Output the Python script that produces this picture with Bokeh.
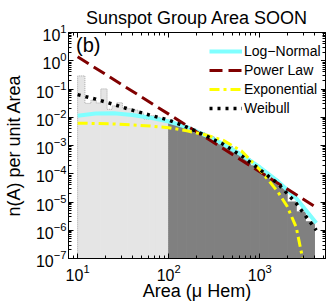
import numpy as np
from bokeh.plotting import figure
from bokeh.models import (LogAxis, FixedTicker, Label, Legend, LegendItem,
                          CustomJSTickFormatter)
from bokeh.embed import file_html
from bokeh.resources import INLINE

TITLE = "Sunspot Group Area SOON"
X_LABEL = "Area (\u03bc Hem)"
Y_LABEL = "n(A) per unit Area"
PANEL = "(b)"

# Histogram, A < 100 (light grey): bin edges and log10 n(A)
light_edges = [10, 12, 14, 16, 18, 21, 24, 27, 31, 35, 40, 46, 53, 61, 70, 80, 90, 100]
light_logn = [-0.54, -1.51, -1.40, -1.50, -1.00, -1.72, -1.60, -1.49, -1.65,
              -1.70, -1.75, -1.85, -2.07, -1.95, -2.00, -2.05, -2.12]
# Histogram, A >= 100 (dark grey)
dark_edges = [100, 126, 158, 200, 251, 316, 398, 501, 631, 794, 1000, 1259,
              1585, 1995, 2512, 3162, 3981]
dark_logn = [-2.20, -2.30, -2.42, -2.56, -2.70, -2.86, -3.04, -3.25, -3.48,
             -3.72, -4.00, -4.20, -4.50, -5.00, -5.35, -5.70]

# Fitted distributions (A, log10 n)
fit_area = [10, 15.8, 25.1, 39.8, 63.1, 100, 158, 251, 398, 631, 1000, 1585, 2512, 4169]
lognormal_logn = [-1.95, -1.87, -1.86, -1.92, -2.02, -2.15, -2.35, -2.63, -2.95,
                  -3.33, -3.77, -4.27, -4.87, -5.74]
weibull_logn = [-1.20, -1.36, -1.55, -1.75, -1.93, -2.10, -2.35, -2.64, -2.96,
                -3.37, -3.85, -4.35, -5.05, -6.00]
power_area = [10, 100, 1000, 3981]
power_logn = [0.14, -1.89, -3.93, -5.15]
exp_area = [10, 15.8, 25.1, 39.8, 63.1, 100, 158, 251, 398, 631, 1000, 1259,
            1585, 1995, 2512, 2951, 3162]
exp_logn = [-2.21, -2.22, -2.24, -2.27, -2.31, -2.37, -2.48, -2.62, -2.82,
            -3.20, -3.86, -4.25, -4.65, -5.15, -5.90, -7.00, -7.50]

FONT = "Liberation Sans"
BOTTOM = 1e-8

p = figure(width=332, height=304, x_axis_type="log", y_axis_type="log",
           x_range=(7.94, 5260), y_range=(1e-7, 10),
           output_backend="svg", toolbar_location=None,
           min_border_left=57, min_border_right=7, min_border_top=32,
           min_border_bottom=46)

p.title.text = TITLE
p.title.align = "center"
p.title.text_font = FONT
p.title.text_font_size = "18px"
p.title.text_font_style = "normal"
p.title.text_color = "black"
p.title.standoff = 9

p.xgrid.visible = False
p.ygrid.visible = False
p.outline_line_color = "black"
p.background_fill_color = "white"
p.border_fill_color = "white"

# light histogram
le = np.array(light_edges, dtype=float)
lh = 10.0 ** np.array(light_logn)
p.quad(left=le[:-1], right=le[1:], top=lh, bottom=BOTTOM,
       fill_color="#e5e5e5", line_color="#e5e5e5", line_width=1)
sx = np.repeat(le, 2)
sy = np.concatenate([[BOTTOM], np.repeat(lh, 2), [BOTTOM]])
p.line(sx, sy, line_color="#b4b4b4", line_width=1, line_dash="1 1")

# dark histogram
de = np.array(dark_edges, dtype=float)
dh = 10.0 ** np.array(dark_logn)
p.quad(left=de[:-1], right=de[1:], top=dh, bottom=BOTTOM,
       fill_color="#808080", line_color="#808080", line_width=1)

r_ln = p.line(fit_area, 10.0 ** np.array(lognormal_logn), line_color="#80ffff",
              line_width=4)
r_pl = p.line(power_area, 10.0 ** np.array(power_logn), line_color="#800000",
              line_width=3, line_dash="13 6")
r_ex = p.line(exp_area, 10.0 ** np.array(exp_logn), line_color="#ffff00",
              line_width=3, line_dash="10 4 3 4")
r_wb = p.line(fit_area, 10.0 ** np.array(weibull_logn), line_color="black",
              line_width=3.5, line_dash="3 5")

x_major = [10, 100, 1000]
x_minor = [m * 10 ** e for e in range(0, 4) for m in range(2, 10)]
y_major = [10.0 ** e for e in range(-7, 2)]
y_minor = [m * 10.0 ** e for e in range(-8, 1) for m in range(2, 10)]

def style(ax):
    ax.major_tick_in = 5
    ax.major_tick_out = 0
    ax.minor_tick_in = 3
    ax.minor_tick_out = 0
    ax.axis_line_color = "black"
    ax.major_tick_line_color = "black"
    ax.minor_tick_line_color = "black"
    ax.major_label_text_font = FONT
    ax.major_label_text_color = "black"
    ax.major_label_text_font_size = "16px"
    ax.axis_label_text_font = FONT
    ax.axis_label_text_font_size = "18px"
    ax.axis_label_text_font_style = "normal"
    ax.axis_label_text_color = "black"

p.xaxis[0].ticker = FixedTicker(ticks=x_major, minor_ticks=x_minor)
p.yaxis[0].ticker = FixedTicker(ticks=y_major, minor_ticks=y_minor)
style(p.xaxis[0])
style(p.yaxis[0])
p.xaxis[0].axis_label = X_LABEL
p.yaxis[0].axis_label = Y_LABEL
p.xaxis[0].major_label_standoff = 5
p.yaxis[0].major_label_standoff = 2
p.xaxis[0].axis_label_standoff = -3
p.yaxis[0].axis_label_standoff = 9

top = LogAxis(ticker=FixedTicker(ticks=x_major, minor_ticks=x_minor),
              formatter=CustomJSTickFormatter(code="return ''"))
right = LogAxis(ticker=FixedTicker(ticks=y_major, minor_ticks=y_minor),
                formatter=CustomJSTickFormatter(code="return ''"))
style(top)
style(right)
top.major_label_standoff = 0
right.major_label_standoff = 0
p.add_layout(top, "above")
p.add_layout(right, "right")

p.add_layout(Label(x=9.6, y=8.5, text=PANEL, text_font=FONT,
                   text_font_size="20px", text_baseline="top",
                   text_color="black"))

legend = Legend(items=[
    LegendItem(label="Log\u2212Normal", renderers=[r_ln]),
    LegendItem(label="Power Law", renderers=[r_pl]),
    LegendItem(label="Exponential", renderers=[r_ex]),
    LegendItem(label="Weibull", renderers=[r_wb]),
], location=(141, 141))
legend.label_text_font = FONT
legend.label_text_font_size = "14px"
legend.label_text_color = "black"
legend.glyph_width = 33
legend.glyph_height = 18
legend.label_height = 18
legend.label_standoff = 2
legend.spacing = 1
legend.padding = 4
legend.margin = 0
legend.border_line_color = None
legend.background_fill_alpha = 1
p.add_layout(legend)

open("out.html", "w").write(file_html(p, INLINE))
